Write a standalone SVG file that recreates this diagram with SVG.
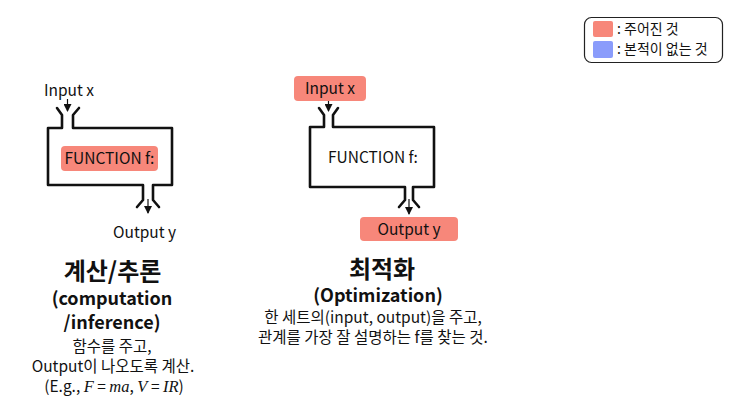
<svg xmlns="http://www.w3.org/2000/svg" width="752" height="415" viewBox="0 0 752 415">
<style>
text{font-family:"Noto Sans CJK KR","Noto Sans",sans-serif;fill:#111}
.mach{fill:none;stroke:#111;stroke-width:2.6;stroke-linejoin:round;stroke-linecap:round}
.arr{stroke:#111;stroke-width:1.2;fill:none}
.given{fill:#f7877a}
.unseen{fill:#8a9cfb}
.lbl{font-size:15.5px}
.ttl{font-size:24px;font-weight:bold;text-anchor:middle}
.sub{font-size:18px;font-weight:bold;text-anchor:middle}
.desc{font-size:15.5px;text-anchor:middle}
.math{font-family:"Liberation Serif","DejaVu Serif",serif;font-style:italic;font-size:16.5px}
</style>
<defs>
<marker id="ah" markerWidth="8" markerHeight="8" refX="7" refY="4" orient="auto" markerUnits="userSpaceOnUse">
<path d="M0,0 L8,4 L0,8 z" fill="#111"/>
</marker>
</defs>
<rect width="752" height="415" fill="#fff"/>

<g id="legend">
<rect x="584.5" y="17.5" width="138" height="45" rx="7" fill="#fff" stroke="#222" stroke-width="1.2"/>
<rect class="given" x="593" y="21" width="20" height="16" rx="2"/>
<rect class="unseen" x="593" y="41" width="20" height="17" rx="2"/>
<text x="617" y="34" font-size="14">: 주어진 것</text>
<text x="617" y="54" font-size="14">: 본적이 없는 것</text>
</g>

<g id="connectors">
<line class="arr" x1="67.5" y1="99" x2="67.5" y2="111" marker-end="url(#ah)"/>
<line class="arr" x1="148" y1="199" x2="148" y2="213" marker-end="url(#ah)"/>
<line class="arr" x1="328.5" y1="100" x2="328.5" y2="111" marker-end="url(#ah)"/>
<line class="arr" x1="409" y1="199" x2="409" y2="214" marker-end="url(#ah)"/>
</g>

<g id="computation-machine">
<path class="mach" d="M57,108 L62,115 L62,128 L48,128 L48,185 L143,185 L143,200 L137,207 M159,207 L153,200 L153,185 L172,185 L172,128 L73,128 L73,115 L79,108"/>
<rect class="given" x="61" y="146" width="97" height="25" rx="4"/>
<text class="lbl" x="109.5" y="164" text-anchor="middle">FUNCTION f:</text>
</g>
<g id="computation-input"><text class="lbl" x="44" y="96">Input x</text></g>
<g id="computation-output"><text class="lbl" x="113" y="238">Output y</text></g>

<g id="optimization-machine">
<path class="mach" d="M319,108 L324,115 L324,127 L310,127 L310,187 L405,187 L405,200 L399,207 M419,207 L413,200 L413,187 L434,187 L434,127 L333,127 L333,115 L338,108"/>
<text class="lbl" x="373" y="163" text-anchor="middle">FUNCTION f:</text>
</g>
<g id="optimization-input">
<rect class="given" x="294" y="76" width="72" height="25" rx="4"/>
<text class="lbl" x="330" y="94" text-anchor="middle">Input x</text>
</g>
<g id="optimization-output">
<rect class="given" x="360" y="217" width="98" height="24" rx="4"/>
<text class="lbl" x="409" y="234.5" text-anchor="middle">Output y</text>
</g>

<g id="computation-caption">
<text class="ttl" x="112.5" y="280">계산/추론</text>
<text class="sub" x="112" y="305">(computation</text>
<text class="sub" x="112" y="329">/inference)</text>
<text class="desc" x="112" y="352">함수를 주고,</text>
<text class="desc" x="113" y="372">Output이 나오도록 계산.</text>
<text class="desc" x="114" y="392" font-size="15">(E.g., <tspan class="math">F</tspan> = <tspan class="math">ma</tspan>, <tspan class="math">V</tspan> = <tspan class="math">IR</tspan>)</text>
</g>

<g id="optimization-caption">
<text class="ttl" x="382" y="277.5">최적화</text>
<text class="sub" x="378" y="302">(Optimization)</text>
<text class="desc" x="373" y="323">한 세트의(input, output)을 주고,</text>
<text class="desc" x="373" y="343">관계를 가장 잘 설명하는 f를 찾는 것.</text>
</g>
</svg>
